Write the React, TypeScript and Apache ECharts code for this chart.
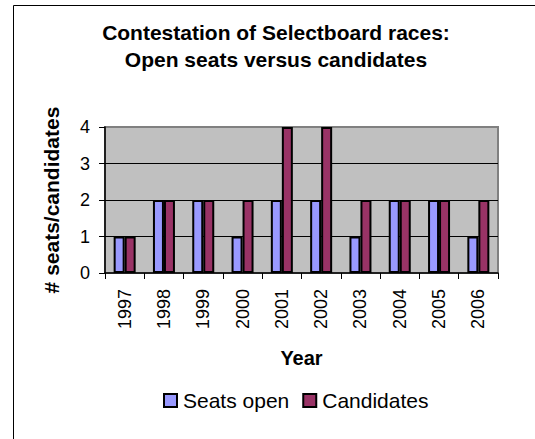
import React, { useEffect, useRef } from "react";
import * as echarts from "echarts";

const years = ["1997", "1998", "1999", "2000", "2001", "2002", "2003", "2004", "2005", "2006"];
const seatsOpen = [1, 2, 2, 1, 2, 2, 1, 2, 2, 1];
const candidates = [1, 2, 2, 2, 4, 4, 2, 2, 2, 2];
const seriesNames = ["Seats open", "Candidates"];
const titleLines = ["Contestation of Selectboard races:", "Open seats versus candidates"];

const FONT = "'Liberation Sans', Arial, Helvetica, sans-serif";

export default function App() {
  const ref = useRef<HTMLDivElement>(null);

  useEffect(() => {
    if (!ref.current) return;
    const chart = echarts.init(ref.current, null, { renderer: "svg" });
    chart.setOption({
      animation: false,
      backgroundColor: "#ffffff",
      title: {
        text: titleLines.join("\n"),
        left: 271,
        top: 14,
        textAlign: "center",
        textStyle: {
          fontFamily: FONT,
          fontSize: 21,
          fontWeight: "bold",
          color: "#000",
          lineHeight: 27,
        },
      },
      graphic: [
        {
          type: "rect",
          silent: true,
          shape: { x: 13.5, y: 5.5, width: 700, height: 700 },
          style: { fill: "none", stroke: "#000", lineWidth: 1 },
        },
      ],
      legend: {
        data: seriesNames,
        left: 163,
        top: 390,
        padding: 0,
        itemWidth: 13,
        itemHeight: 13,
        itemGap: 13,
        icon: "rect",
        itemStyle: { borderColor: "#000", borderWidth: 2 },
        textStyle: { fontFamily: FONT, fontSize: 21, color: "#000", padding: [0, 0, 0, 1] },
      },
      grid: {
        left: 105,
        top: 127,
        width: 393,
        height: 146,
        show: true,
        backgroundColor: "#C0C0C0",
        borderColor: "#808080",
        borderWidth: 2,
        containLabel: false,
      },
      xAxis: {
        type: "category",
        data: years,
        name: "Year",
        nameLocation: "middle",
        nameGap: 75,
        nameTextStyle: { fontFamily: FONT, fontSize: 20, fontWeight: "bold", color: "#000" },
        axisLine: { show: true, lineStyle: { color: "#000", width: 1.5 } },
        axisTick: { show: true, length: 6, alignWithLabel: false, lineStyle: { color: "#000", width: 1 } },
        axisLabel: {
          rotate: 90,
          margin: 16,
          interval: 0,
          fontFamily: FONT,
          fontSize: 18,
          color: "#000",
          padding: [0, 0, 7, 0],
        },
        splitLine: { show: false },
      },
      yAxis: {
        type: "value",
        min: 0,
        max: 4,
        interval: 1,
        name: "# seats/candidates",
        nameLocation: "middle",
        nameGap: 43,
        nameTextStyle: { fontFamily: FONT, fontSize: 21, fontWeight: "bold", color: "#000" },
        axisLine: { show: true, lineStyle: { color: "#000", width: 1.5 } },
        axisTick: { show: true, length: 6, lineStyle: { color: "#000", width: 1 } },
        axisLabel: { margin: 15, fontFamily: FONT, fontSize: 18, color: "#000" },
        splitLine: {
          show: true,
          showMinLine: false,
          showMaxLine: false,
          lineStyle: { color: "#000", width: 1 },
        },
      },
      series: [
        {
          name: seriesNames[0],
          type: "bar",
          data: seatsOpen,
          barWidth: 11,
          barGap: "0%",
          itemStyle: { color: "#9999FF", borderColor: "#000", borderWidth: 2 },
        },
        {
          name: seriesNames[1],
          type: "bar",
          data: candidates,
          barWidth: 11,
          barGap: "0%",
          itemStyle: { color: "#993366", borderColor: "#000", borderWidth: 2 },
        },
      ],
    });
    return () => chart.dispose();
  }, []);

  return (
    <div
      ref={ref}
      style={{ position: "fixed", left: 0, top: 0, width: 535, height: 439 }}
    />
  );
}
